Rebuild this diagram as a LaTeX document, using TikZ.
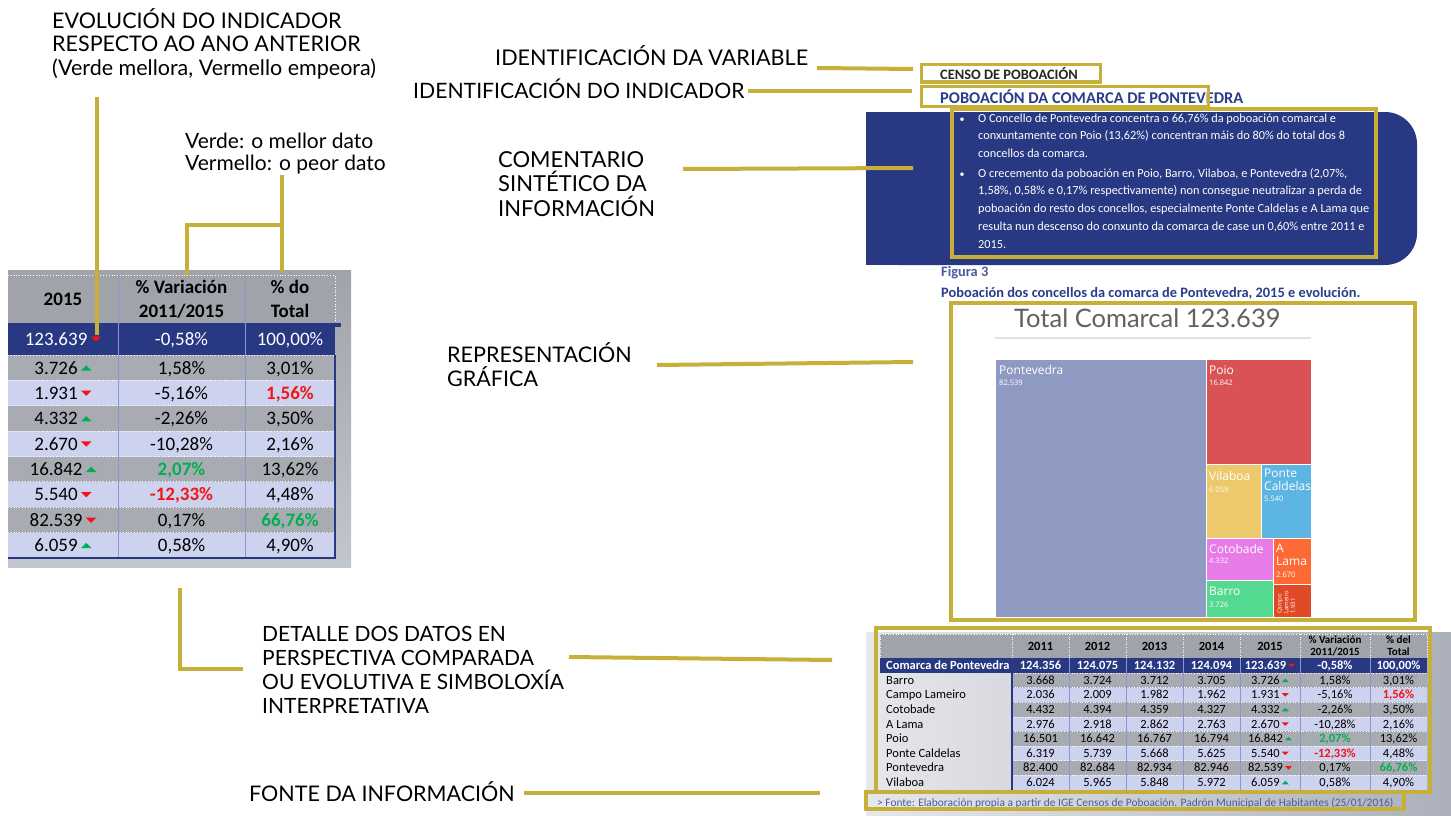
\documentclass[tikz,border=0pt]{standalone}
\usepackage{fontspec}
\setmainfont{Carlito}
\newfontfamily\tagfont{Lato}
\newfontfamily\chartfont{Open Sans}

\definecolor{gold}{RGB}{199,176,58}
\definecolor{navy}{RGB}{40,56,130}
\definecolor{rowgray}{RGB}{168,171,178}
\definecolor{rowlav}{RGB}{205,210,238}
\definecolor{headgray}{RGB}{160,163,170}
\definecolor{sepblue}{RGB}{138,150,206}
\definecolor{worst}{RGB}{245,20,20}
\definecolor{best}{RGB}{0,176,80}
\definecolor{capblue}{RGB}{42,60,140}
\definecolor{srcblue}{RGB}{72,92,160}
\definecolor{tmpont}{RGB}{143,154,195}
\definecolor{tmpoio}{RGB}{217,82,86}
\definecolor{tmvila}{RGB}{238,201,107}
\definecolor{tmcald}{RGB}{93,181,228}
\definecolor{tmcoto}{RGB}{231,123,231}
\definecolor{tmlama}{RGB}{253,106,53}
\definecolor{tmbarr}{RGB}{84,218,144}
\definecolor{tmcamp}{RGB}{225,74,38}

\newcommand\trdn{\,\tikz[baseline=0pt]\fill[worst] (0pt,.46em) -- (.56em,.46em) -- (.28em,.18em) -- cycle;}
\newcommand\trup{\,\tikz[baseline=0pt]\fill[best] (0pt,.18em) -- (.56em,.18em) -- (.28em,.46em) -- cycle;}
\newcommand\redval[1]{\textbf{\color{worst}#1}}
\newcommand\greenval[1]{\textbf{\color{best}#1}}

\tikzset{
  lead/.style={draw=gold, line width=4pt},
  goldframe/.style={draw=gold, line width=#1},
  goldframe/.default=4pt,
  % multi-line nodes are placed at the baseline of their last line
  notetext/.style={font=\tagfont\fontsize{21.5}{23.5}\selectfont, inner sep=0pt, anchor=base west, align=left},
  bigcell/.style={font=\fontsize{19}{24}\selectfont, inner sep=0pt, anchor=base, align=center},
  bighead/.style={bigcell, font=\bfseries\fontsize{19}{24}\selectfont},
  smallcell/.style={font=\fontsize{12.5}{13}\selectfont, inner sep=0pt, anchor=base, align=center},
  smallhead/.style={smallcell, font=\bfseries\fontsize{12.5}{12}\selectfont},
  tmcell/.style={fill=#1, draw=white, line width=1pt},
  tmname/.style={font=\chartfont\fontsize{12}{12.5}\selectfont, text=white, inner sep=0pt, anchor=north west, align=left},
  tmvalue/.style={font=\chartfont\fontsize{7.5}{8}\selectfont, text=white, inner sep=0pt, anchor=north west},
}

\begin{document}
\begin{tikzpicture}[x=1pt,y=-1pt]
\fill[white] (0,0) rectangle (1451,816);
\useasboundingbox (0,0) rectangle (1451,816);

%% left: extract of the table
\shade[top color=headgray, bottom color={rgb,255:red,194;green,198;blue,206}] (8,270) rectangle (351,567);
\fill[headgray] (8,275) rectangle (335,323);
\fill[navy] (8,323) rectangle (335,355);
\fill[navy] (8,323) rectangle (341,327);
\foreach \i/\ka/\kb/\kc in {
  0/{3.726\trup}/{1,58\%}/{3,01\%},
  1/{1.931\trdn}/{-5,16\%}/{\redval{1,56\%}},
  2/{4.332\trup}/{-2,26\%}/{3,50\%},
  3/{2.670\trdn}/{-10,28\%}/{2,16\%},
  4/{16.842\trup}/{\greenval{2,07\%}}/{13,62\%},
  5/{5.540\trdn}/{\redval{-12,33\%}}/{4,48\%},
  6/{82.539\trdn}/{0,17\%}/{\greenval{66,76\%}},
  7/{6.059\trup}/{0,58\%}/{4,90\%}}
{
  \pgfmathsetmacro\yt{355+25.375*\i}
  \pgfmathtruncatemacro\rowpar{mod(\i,2)}
  \ifnum\rowpar=0 \colorlet{rowfill}{rowgray}\else\colorlet{rowfill}{rowlav}\fi
  \fill[rowfill] (8,\yt) rectangle (335,\yt+25.375);
  \draw[white, dotted, line width=.8pt] (8,\yt) -- (335,\yt);
  \node[bigcell] (lk\i) at (63,\yt+19) {\ka};
  \node[bigcell] (lv\i) at (181.5,\yt+19) {\kb};
  \node[bigcell] (lp\i) at (290,\yt+19) {\kc};
}
\draw[white, dotted, line width=.8pt] (8,275) -- (335,275) -- (335,323);
\draw[sepblue, line width=.8pt] (118,275) -- (118,558) (245,275) -- (245,558);
\draw[navy, line width=2pt] (335,355) -- (335,558) -- (8,558);
\node[bighead] (lh1) at (63,305) {2015};
\node[bighead] (lh2) at (181.5,317) {\% Variación\\2011/2015};
\node[bighead] (lh3) at (290,317) {\% do\\Total};
\node[bigcell, text=white] (lt1) at (63,345) {123.639\trdn};
\node[bigcell, text=white] (lt2) at (181.5,345) {-0,58\%};
\node[bigcell, text=white] (lt3) at (290,345) {100,00\%};

%% right: page of the report
\node[anchor=base west, inner sep=0pt, font=\bfseries\fontsize{14.4}{15}\selectfont, text=black!85] (censo) at (940,80) {CENSO DE POBOACIÓN};
\node[anchor=base west, inner sep=0pt, font=\bfseries\fontsize{16.4}{17}\selectfont, text=capblue] (indic) at (940,103) {POBOACIÓN DA COMARCA DE PONTEVEDRA};
\draw[goldframe=3pt] (921,65) rectangle (1100,82);
\draw[goldframe=3pt] (921,86) rectangle (1208,106);

\fill[navy, rounded corners=32pt] (866,112) rectangle (1417,265);
\fill[navy] (866,112) rectangle (940,265);
\node[anchor=base, inner sep=0pt, text=white] (bul1) at (962,122) {\textbullet};
\node[anchor=base, inner sep=0pt, text=white] (bul2) at (962,177) {\textbullet};
\node[anchor=base west, inner sep=0pt, align=left, text=white, font=\fontsize{12.3}{17.9}\selectfont] (txt1) at (978,157.8)
  {O Concello de Pontevedra concentra o 66,76\% da poboación comarcal e\\
   conxuntamente con Poio (13,62\%) concentran máis do 80\% do total dos 8\\
   concellos da comarca.};
\node[anchor=base west, inner sep=0pt, align=left, text=white, font=\fontsize{12.3}{17.9}\selectfont] (txt2) at (978,248.6)
  {O crecemento da poboación en Poio, Barro, Vilaboa, e Pontevedra (2,07\%,\\
   1,58\%, 0,58\% e 0,17\% respectivamente) non consegue neutralizar a perda de\\
   poboación do resto dos concellos, especialmente Ponte Caldelas e A Lama que\\
   resulta nun descenso do conxunto da comarca de case un 0,60\% entre 2011 e\\
   2015.};
\draw[goldframe=3.5pt] (952,109) rectangle (1376,257);

\node[anchor=base west, inner sep=0pt, font=\bfseries\fontsize{14.4}{15}\selectfont, text=capblue!85] (fig) at (941,276) {Figura 3};
\node[anchor=base west, inner sep=0pt, font=\bfseries\fontsize{14.4}{15}\selectfont, text=capblue] (figcap) at (941,297) {Poboación dos concellos da comarca de Pontevedra, 2015 e evolución.};

% treemap
\node[anchor=base west, inner sep=0pt, font=\tagfont\fontsize{25.5}{28}\selectfont, text=black!62] (tmtitle) at (1014,327) {Total Comarcal 123.639};
\draw[black!12, line width=2.5pt] (995,338) -- (1311,338);
\path[tmcell=tmpont] (995,359) rectangle (1206,617);
\path[tmcell=tmpoio] (1206,359) rectangle (1311,464);
\path[tmcell=tmvila] (1206,464) rectangle (1261,538);
\path[tmcell=tmcald] (1261,464) rectangle (1311,538);
\path[tmcell=tmcoto] (1206,538) rectangle (1273,580);
\path[tmcell=tmlama] (1273,538) rectangle (1311,584);
\path[tmcell=tmbarr] (1206,580) rectangle (1273,617);
\path[tmcell=tmcamp] (1273,584) rectangle (1311,617);
\node[tmname] (tn1) at (999,365) {Pontevedra};
\node[tmvalue] (tv1) at (999,380) {82.539};
\node[tmname] (tn2) at (1209,365) {Poio};
\node[tmvalue] (tv2) at (1209,380) {16.842};
\node[tmname] (tn3) at (1209,471) {Vilaboa};
\node[tmvalue] (tv3) at (1209,487) {6.059};
\node[tmname] (tn4) at (1264,469) {Ponte\\Caldelas};
\node[tmvalue] (tv4) at (1264,496) {5.540};
\node[tmname] (tn5) at (1209,544) {Cotobade};
\node[tmvalue] (tv5) at (1209,558) {4.332};
\node[tmname] (tn6) at (1276,544) {A\\Lama};
\node[tmvalue] (tv6) at (1276,572) {2.670};
\node[tmname] (tn7) at (1209,587) {Barro};
\node[tmvalue] (tv7) at (1209,602) {3.726};
\node[tmvalue, rotate=90, align=left, font=\chartfont\fontsize{6}{6.8}\selectfont] (tn8) at (1277,614) {Campo\\Lameiro\\1.931};
\draw[goldframe] (951,303) rectangle (1415,620);

% full table
\shade[left color={rgb,255:red,230;green,231;blue,235}, right color={rgb,255:red,172;green,176;blue,186}] (866,632) rectangle (1451,816);
\fill[headgray] (880,634) rectangle (1427,658);
\fill[navy] (880,658) rectangle (1427,673);
\foreach \i/\nm/\va/\vb/\vc/\vd/\ve/\vf/\vg in {
  0/Barro/3.668/3.724/3.712/3.705/{3.726\trup}/{1,58\%}/{3,01\%},
  1/Campo Lameiro/2.036/2.009/1.982/1.962/{1.931\trdn}/{-5,16\%}/{\redval{1,56\%}},
  2/Cotobade/4.432/4.394/4.359/4.327/{4.332\trup}/{-2,26\%}/{3,50\%},
  3/A Lama/2.976/2.918/2.862/2.763/{2.670\trdn}/{-10,28\%}/{2,16\%},
  4/Poio/16.501/16.642/16.767/16.794/{16.842\trup}/{\greenval{2,07\%}}/{13,62\%},
  5/Ponte Caldelas/6.319/5.739/5.668/5.625/{5.540\trdn}/{\redval{-12,33\%}}/{4,48\%},
  6/Pontevedra/82.400/82.684/82.934/82.946/{82.539\trdn}/{0,17\%}/{\greenval{66,76\%}},
  7/Vilaboa/6.024/5.965/5.848/5.972/{6.059\trup}/{0,58\%}/{4,90\%}}
{
  \pgfmathsetmacro\yt{673+14.6*\i}
  \pgfmathtruncatemacro\rowpar{mod(\i,2)}
  \ifnum\rowpar=0 \colorlet{rowfill}{rowgray}\else\colorlet{rowfill}{rowlav}\fi
  \fill[rowfill] (1012,\yt) rectangle (1427,\yt+14.6);
  \draw[white, dotted, line width=.6pt] (1012,\yt) -- (1427,\yt);
  \node[smallcell, anchor=base west] (bn\i) at (886,\yt+11.3) {\nm};
  \node[smallcell] (ba\i) at (1040.5,\yt+11.3) {\va};
  \node[smallcell] (bb\i) at (1097.5,\yt+11.3) {\vb};
  \node[smallcell] (bc\i) at (1154.5,\yt+11.3) {\vc};
  \node[smallcell] (bd\i) at (1211.5,\yt+11.3) {\vd};
  \node[smallcell] (be\i) at (1270,\yt+11.3) {\ve};
  \node[smallcell] (bf\i) at (1335,\yt+11.3) {\vf};
  \node[smallcell] (bg\i) at (1398.5,\yt+11.3) {\vg};
}
\draw[white, dotted, line width=.6pt] (880,634) -- (1427,634) -- (1427,658) (880,634) -- (880,658);
\foreach \x in {1012,1069,1126,1183,1240,1300,1370}
  \draw[white, dotted, line width=.6pt] (\x,634) -- (\x,658);
\foreach \x in {1069,1126,1183,1240,1300,1370}
  \draw[sepblue, line width=.6pt] (\x,658) -- (\x,790);
\draw[navy, line width=1.5pt] (1012,673) -- (1012,790);
\foreach \x/\t in {1040.5/2011,1097.5/2012,1154.5/2013,1211.5/2014,1270/2015}
  \node[smallhead] (bh\t) at (\x,650) {\t};
\node[smallhead, font=\bfseries\fontsize{11}{12}\selectfont] (bhv) at (1335,655) {\% Variación\\2011/2015};
\node[smallhead, font=\bfseries\fontsize{11}{12}\selectfont] (bhp) at (1398.5,655) {\% del\\Total};
\node[smallhead, anchor=base west, text=white] (bcn) at (886,669.5) {Comarca de Pontevedra};
\foreach \x/\t/\k in {1040.5/124.356/1,1097.5/124.075/2,1154.5/124.132/3,1211.5/124.094/4,1270/{123.639\trdn}/5,1335/{-0,58\%}/6,1398.5/{100,00\%}/7}
  \node[smallhead, text=white] (bct\k) at (\x,669.5) {\t};
\draw[goldframe] (876,628) rectangle (1430,792);
\node[anchor=base west, inner sep=0pt, font=\fontsize{11.4}{12}\selectfont, text=srcblue] (src) at (877,806)
  {> Fonte: Elaboración propia a partir de IGE Censos de Poboación. Padrón Municipal de Habitantes (25/01/2016)};
\draw[goldframe] (866,792) rectangle (1404,809);

%% labels
\node[notetext] (evo) at (52,75) {EVOLUCIÓN DO INDICADOR\\RESPECTO AO ANO ANTERIOR\\(Verde mellora, Vermello empeora)};
\node[notetext, font=\tagfont\fontsize{21}{22}\selectfont] (verde) at (185,170) {Verde: o mellor dato\\Vermello: o peor dato};
\node[notetext, font=\tagfont\fontsize{21.6}{24}\selectfont] (idvar) at (495,66) {IDENTIFICACIÓN DA VARIABLE};
\node[notetext, font=\tagfont\fontsize{21.2}{24}\selectfont] (idind) at (413,98) {IDENTIFICACIÓN DO INDICADOR};
\node[notetext, font=\tagfont\fontsize{22}{24.5}\selectfont] (coment) at (498,216) {COMENTARIO\\SINTÉTICO DA\\INFORMACIÓN};
\node[notetext, font=\tagfont\fontsize{21.5}{24}\selectfont] (repr) at (447,386) {REPRESENTACIÓN\\GRÁFICA};
\node[notetext, font=\tagfont\fontsize{21}{24.2}\selectfont] (detalle) at (262,713.6) {DETALLE DOS DATOS EN\\PERSPECTIVA COMPARADA\\OU EVOLUTIVA E SIMBOLOXÍA\\INTERPRETATIVA};
\node[notetext] (fonte) at (249,801) {FONTE DA INFORMACIÓN};

%% connectors
\coordinate (evo-a) at (97,97);
\coordinate (evo-b) at (97,335);
\coordinate (verde-a) at (282,175);
\coordinate (verde-b) at (282,272);
\coordinate (verde-c) at (187,275);
\coordinate (idvar-a) at (817,68);
\coordinate (idvar-b) at (913,69);
\coordinate (idind-a) at (748,91);
\coordinate (idind-b) at (912,91);
\coordinate (coment-a) at (683,169);
\coordinate (coment-b) at (913,168);
\coordinate (repr-a) at (657,365);
\coordinate (repr-b) at (913,362);
\coordinate (det-a) at (180,588);
\coordinate (det-b) at (243,669);
\coordinate (det-c) at (569,657);
\coordinate (det-d) at (832,660);
\coordinate (fonte-a) at (524,793);
\coordinate (fonte-b) at (820,793);

\draw[lead] (evo-a) -- (evo-b);
\draw[lead] (verde-a) -- (verde-b);
\draw[lead] (verde-c) |- (verde-a |- 0,225);
\draw[lead] (idvar-a) -- (idvar-b);
\draw[lead] (idind-a) -- (idind-b);
\draw[lead] (coment-a) -- (coment-b);
\draw[lead] (repr-a) -- (repr-b);
\draw[lead] (det-a) |- (det-b);
\draw[lead] (det-c) -- (det-d);
\draw[lead] (fonte-a) -- (fonte-b);

\end{tikzpicture}
\end{document}
